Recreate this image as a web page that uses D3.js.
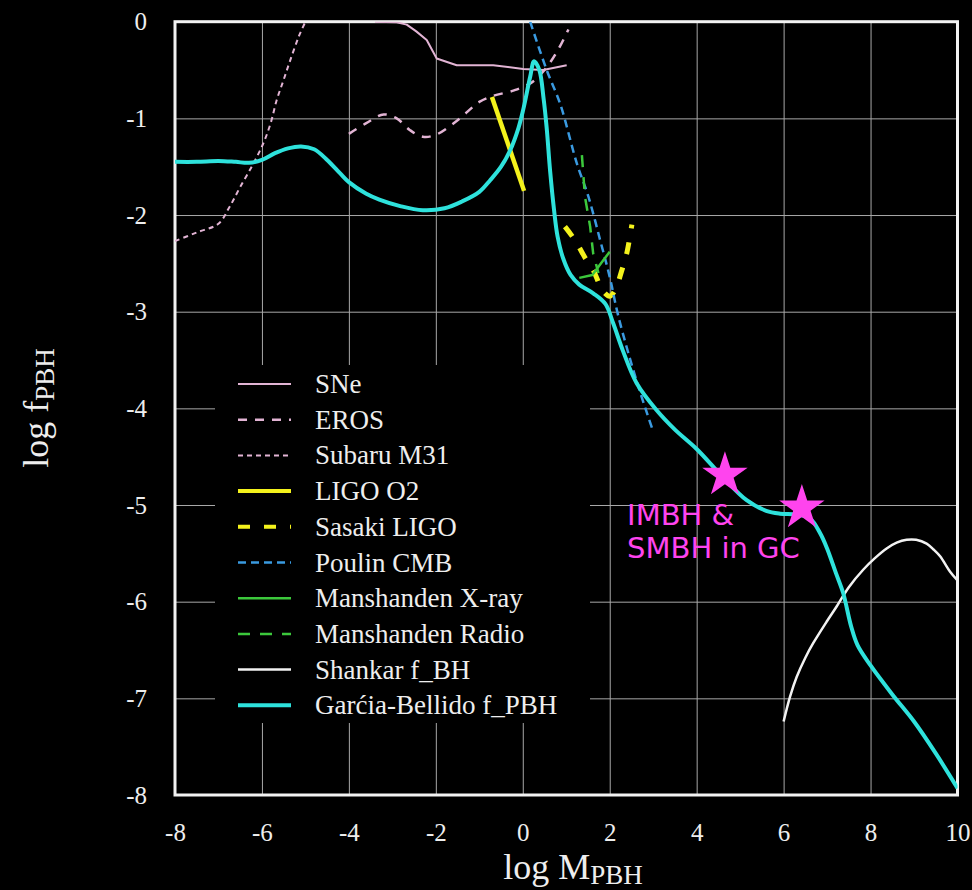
<!DOCTYPE html>
<html lang="en">
<head>
<meta charset="utf-8">
<title>log f_PBH vs log M_PBH</title>
<script src="https://cdn.jsdelivr.net/npm/d3@7"></script>
<style>
  body { margin: 0; background: #000; }
  .axis text { font-family: "Liberation Serif", "Times New Roman", serif; font-size: 25px; fill: #eee; }
  .legend text { font-family: "Liberation Serif", "Times New Roman", serif; font-size: 27px; fill: #eee; }
</style>
</head>
<body>
<script>
// ticks
const xTicks = [-8, -6, -4, -2, 0, 2, 4, 6, 8, 10];
const yTicks = [0, -1, -2, -3, -4, -5, -6, -7, -8];

// series: [log M, log f]
const sne = [[-3.4,0],[-2.9,-0.005],[-2.67,-0.03],[-2.45,-0.1],[-2.21,-0.19],[-1.98,-0.38],[-1.52,-0.45],[-0.68,-0.45],[0.01,-0.49],[0.47,-0.5],[1.01,-0.45]];
const eros = [[-4.0,-1.16],[-3.6,-1.05],[-3.2,-0.96],[-2.9,-1.0],[-2.6,-1.12],[-2.3,-1.19],[-2.0,-1.17],[-1.5,-1.02],[-1.0,-0.83],[-0.7,-0.77],[-0.2,-0.71],[0.2,-0.63],[0.5,-0.5],[0.8,-0.3],[1.05,-0.08]];
const subaru = [[-8,-2.27],[-7.5,-2.18],[-7.0,-2.09],[-6.75,-1.92],[-6.5,-1.71],[-6.2,-1.47],[-5.97,-1.26],[-5.8,-1.05],[-5.66,-0.81],[-5.5,-0.6],[-5.35,-0.4],[-5.15,-0.15],[-5.0,0]];
const ligoO2 = [[-0.71,-0.78],[0.03,-1.75]];
const sasaki = [[0.97,-2.12],[1.2,-2.26],[1.47,-2.47],[1.62,-2.57],[1.85,-2.79],[2.0,-2.84],[2.12,-2.78],[2.28,-2.57],[2.39,-2.4],[2.51,-2.1]];
const poulin = [[0.17,0],[0.55,-0.5],[0.86,-0.85],[1.24,-1.46],[1.51,-1.81],[1.78,-2.26],[2.0,-2.64],[2.2,-3.05],[2.62,-3.72],[3.0,-4.24]];
const xray = [[1.3,-2.65],[1.6,-2.62],[1.8,-2.5],[2.0,-2.38]];
const radio = [[1.36,-1.38],[1.43,-1.81],[1.55,-2.12],[1.62,-2.4],[1.74,-2.6]];
const shankar = [[6.0,-7.24],[6.15,-6.98],[6.3,-6.78],[6.5,-6.58],[6.68,-6.43],[7.0,-6.2],[7.22,-6.05],[7.5,-5.85],[7.83,-5.67],[8.1,-5.55],[8.37,-5.45],[8.6,-5.39],[8.83,-5.36],[9.05,-5.36],[9.29,-5.4],[9.45,-5.46],[9.6,-5.53],[9.83,-5.69],[10,-5.78]];
const garcia = [[-8,-1.45],[-7.5,-1.45],[-7,-1.44],[-6.6,-1.45],[-6.3,-1.46],[-6.0,-1.43],[-5.7,-1.36],[-5.4,-1.31],[-5.1,-1.29],[-4.8,-1.32],[-4.5,-1.43],[-4.2,-1.57],[-4.0,-1.66],[-3.6,-1.78],[-3.3,-1.84],[-2.8,-1.91],[-2.3,-1.95],[-1.8,-1.93],[-1.4,-1.86],[-1.0,-1.76],[-0.75,-1.64],[-0.5,-1.5],[-0.29,-1.33],[-0.1,-1.1],[0.01,-0.91],[0.17,-0.57],[0.26,-0.41],[0.38,-0.5],[0.48,-0.8],[0.55,-1.1],[0.63,-1.55],[0.72,-1.95],[0.8,-2.22],[0.93,-2.45],[1.1,-2.62],[1.3,-2.72],[1.62,-2.81],[1.9,-2.92],[2.08,-3.12],[2.3,-3.4],[2.62,-3.74],[3.08,-4.02],[3.5,-4.22],[4.0,-4.42],[4.6,-4.71],[5.15,-4.95],[5.6,-5.06],[5.92,-5.09],[6.3,-5.1],[6.61,-5.14],[6.85,-5.3],[7.0,-5.45],[7.2,-5.7],[7.37,-5.91],[7.55,-6.25],[7.7,-6.45],[8.0,-6.66],[8.5,-6.96],[9.0,-7.24],[9.5,-7.57],[10,-7.93]];
const stars = [[4.65,-4.69],[6.42,-5.03]];
const note = ["IMBH &", "SMBH in GC"];
const noteAt = [2.4, -5.21];

const series = [
  {name: "SNe", data: sne, color: "#e2b4d4", width: 2, dash: null, curve: d3.curveLinear},
  {name: "EROS", data: eros, color: "#e2b4d4", width: 2.5, dash: "9,8", curve: d3.curveCatmullRom},
  {name: "Subaru M31", data: subaru, color: "#e2b4d4", width: 2, dash: "5,4", curve: d3.curveCatmullRom},
  {name: "LIGO O2", data: ligoO2, color: "#f4f21c", width: 4.5, dash: null, curve: d3.curveLinear},
  {name: "Sasaki LIGO", data: sasaki, color: "#f4f21c", width: 5, dash: "12,14", curve: d3.curveCatmullRom},
  {name: "Poulin CMB", data: poulin, color: "#3a9ae0", width: 2.5, dash: "8,5", curve: d3.curveCatmullRom},
  {name: "Manshanden X-ray", data: xray, color: "#3cc83c", width: 2.5, dash: null, curve: d3.curveLinear},
  {name: "Manshanden Radio", data: radio, color: "#3cc83c", width: 2.5, dash: "12,10", curve: d3.curveLinear},
  {name: "Shankar f_BH", data: shankar, color: "#f2f2f2", width: 2.5, dash: null, curve: d3.curveCatmullRom},
  {name: "Garćia-Bellido f_PBH", data: garcia, color: "#2ee2dc", width: 4, dash: null, curve: d3.curveCatmullRom}
];

const w = 972, h = 890;
const margin = {top: 21.7, right: 14.5, bottom: 95, left: 175};
const innerWidth = w - margin.left - margin.right;
const innerHeight = h - margin.top - margin.bottom;

const svg = d3.select("body").append("svg")
  .attr("width", w).attr("height", h)
  .style("background", "#000");

const xScale = d3.scaleLinear().domain([-8, 10]).range([margin.left, margin.left + innerWidth]);
const yScale = d3.scaleLinear().domain([-8, 0]).range([margin.top + innerHeight, margin.top]);

// grid + tick labels
const xAxis = d3.axisBottom(xScale).tickValues(xTicks).tickSize(-innerHeight).tickPadding(28.5).tickFormat(d => String(d));
const yAxis = d3.axisLeft(yScale).tickValues(yTicks).tickSize(-innerWidth).tickPadding(28).tickFormat(d => String(d));

svg.append("g").attr("class", "axis")
  .attr("transform", "translate(0," + (margin.top + innerHeight) + ")")
  .call(xAxis)
  .call(g => g.select(".domain").remove())
  .call(g => g.selectAll("line").attr("stroke", "#a8a8a8").attr("stroke-width", 1));

svg.append("g").attr("class", "axis")
  .attr("transform", "translate(" + margin.left + ",0)")
  .call(yAxis)
  .call(g => g.select(".domain").remove())
  .call(g => g.selectAll("line").attr("stroke", "#a8a8a8").attr("stroke-width", 1));

// frame
svg.append("rect")
  .attr("x", margin.left).attr("y", margin.top)
  .attr("width", innerWidth).attr("height", innerHeight)
  .attr("fill", "none").attr("stroke", "#f2f2f2").attr("stroke-width", 3);

svg.append("clipPath").attr("id", "plot")
  .append("rect")
  .attr("x", margin.left).attr("y", margin.top)
  .attr("width", innerWidth).attr("height", innerHeight);

const line = d3.line().x(d => xScale(d[0])).y(d => yScale(d[1]));

svg.append("g").attr("clip-path", "url(#plot)")
  .selectAll("path")
  .data(series)
  .enter()
  .append("path")
  .attr("d", s => line.curve(s.curve)(s.data))
  .attr("fill", "none")
  .attr("stroke", s => s.color)
  .attr("stroke-width", s => s.width)
  .attr("stroke-dasharray", s => s.dash)
  .attr("stroke-linejoin", "round");

// legend
const legend = svg.append("g").attr("class", "legend");
legend.append("rect")
  .attr("x", 215).attr("y", 365).attr("width", 375).attr("height", 358)
  .attr("fill", "#000");
const rowY = i => 384 + i * 35.7;
legend.selectAll("line").data(series).enter().append("line")
  .attr("x1", 238).attr("x2", 291)
  .attr("y1", (s, i) => rowY(i)).attr("y2", (s, i) => rowY(i))
  .attr("stroke", s => s.color)
  .attr("stroke-width", s => Math.min(s.width, 4))
  .attr("stroke-dasharray", s => s.dash);
legend.selectAll("text").data(series).enter().append("text")
  .attr("x", 315).attr("y", (s, i) => rowY(i) + 9)
  .text(s => s.name);

// stars and note
svg.selectAll("path.star").data(stars).enter().append("path")
  .attr("class", "star")
  .attr("transform", d => "translate(" + xScale(d[0]) + "," + yScale(d[1]) + ")")
  .attr("d", d3.symbol(d3.symbolStar, 640))
  .attr("fill", "#ff44ee");

svg.append("text")
  .attr("x", xScale(noteAt[0])).attr("y", yScale(noteAt[1]))
  .style("font-family", "'DejaVu Sans', Verdana, sans-serif")
  .style("font-size", "29px")
  .attr("fill", "#ff44ee")
  .selectAll("tspan").data(note).enter().append("tspan")
  .attr("x", xScale(noteAt[0]))
  .attr("dy", (d, i) => i === 0 ? 0 : 33)
  .text(d => d);

// axis titles
const xt = svg.append("text")
  .attr("x", 573).attr("y", 879)
  .attr("text-anchor", "middle")
  .style("font-family", "'Liberation Serif', serif")
  .style("font-size", "36px")
  .attr("fill", "#eee");
xt.append("tspan").text("log M");
xt.append("tspan").attr("dy", 5).style("font-size", "27px").text("PBH");

const yt = svg.append("text")
  .attr("transform", "translate(48,408) rotate(-90)")
  .attr("text-anchor", "middle")
  .style("font-family", "'Liberation Serif', serif")
  .style("font-size", "36px")
  .attr("fill", "#eee");
yt.append("tspan").text("log f");
yt.append("tspan").attr("dy", 6).style("font-size", "27px").text("PBH");
</script>
</body>
</html>
